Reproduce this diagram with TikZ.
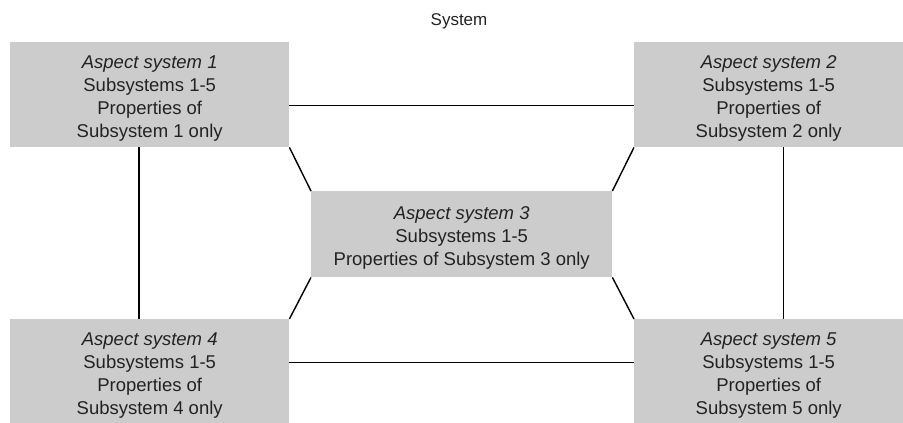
\documentclass[tikz,border=0pt]{standalone}
\usepackage{fontspec}
\setmainfont{Liberation Sans}
\usetikzlibrary{calc}
\definecolor{boxgray}{HTML}{CCCCCC}
\definecolor{inkgray}{HTML}{222222}
\begin{document}
\begin{tikzpicture}[x=1pt,y=-1pt,
  aspectbox/.style={fill=boxgray, draw=none, inner sep=0pt, anchor=north west},
  boxtext/.style={inner sep=0pt, align=center, text=inkgray,
    font=\fontsize{18.5}{23}\selectfont},
  link/.style={draw=black, line width=1.4pt}]
  \useasboundingbox (0,0) rectangle (903,423);

  % title
  \node[text=inkgray, font=\fontsize{17}{20}\selectfont, anchor=base] (title) at (459,25) {System};

  % the five aspect systems: grey boxes
  \node[aspectbox, minimum width=279pt, minimum height=105pt] (a1) at (10,42) {};
  \node[aspectbox, minimum width=269pt, minimum height=105pt] (a2) at (634,42) {};
  \node[aspectbox, minimum width=301pt, minimum height=86pt] (a3) at (311,191) {};
  \node[aspectbox, minimum width=279pt, minimum height=105pt] (a4) at (10,319) {};
  \node[aspectbox, minimum width=269pt, minimum height=105pt] (a5) at (634,319) {};

  % their texts
  \node[boxtext] (t1) at ($(a1.center)+(0,4)$)
    {\textit{Aspect system 1}\\Subsystems 1-5\\Properties of\\Subsystem 1 only};
  \node[boxtext] (t2) at ($(a2.center)+(0,4)$)
    {\textit{Aspect system 2}\\Subsystems 1-5\\Properties of\\Subsystem 2 only};
  \node[boxtext] (t3) at ($(a3.center)+(0,4)$)
    {\textit{Aspect system 3}\\Subsystems 1-5\\Properties of Subsystem 3 only};
  \node[boxtext] (t4) at ($(a4.center)+(0,4)$)
    {\textit{Aspect system 4}\\Subsystems 1-5\\Properties of\\Subsystem 4 only};
  \node[boxtext] (t5) at ($(a5.center)+(0,4)$)
    {\textit{Aspect system 5}\\Subsystems 1-5\\Properties of\\Subsystem 5 only};

  % horizontal links
  \draw[link] ($(a1.north east)!0.6!(a1.south east)$) -- ($(a2.north west)!0.6!(a2.south west)$);
  \draw[link] ($(a4.north east)!0.41!(a4.south east)$) -- ($(a5.north west)!0.41!(a5.south west)$);
  % vertical links
  \draw[link] ($(a1.south west)!0.462!(a1.south east)$) -- ($(a4.north west)!0.462!(a4.north east)$);
  \draw[link] ($(a2.south west)!0.554!(a2.south east)$) -- ($(a5.north west)!0.554!(a5.north east)$);
  % diagonal links to the centre
  \draw[link] (a1.south east) -- (a3.north west);
  \draw[link] (a2.south west) -- (a3.north east);
  \draw[link] (a4.north east) -- (a3.south west);
  \draw[link] (a5.north west) -- (a3.south east);
\end{tikzpicture}
\end{document}
